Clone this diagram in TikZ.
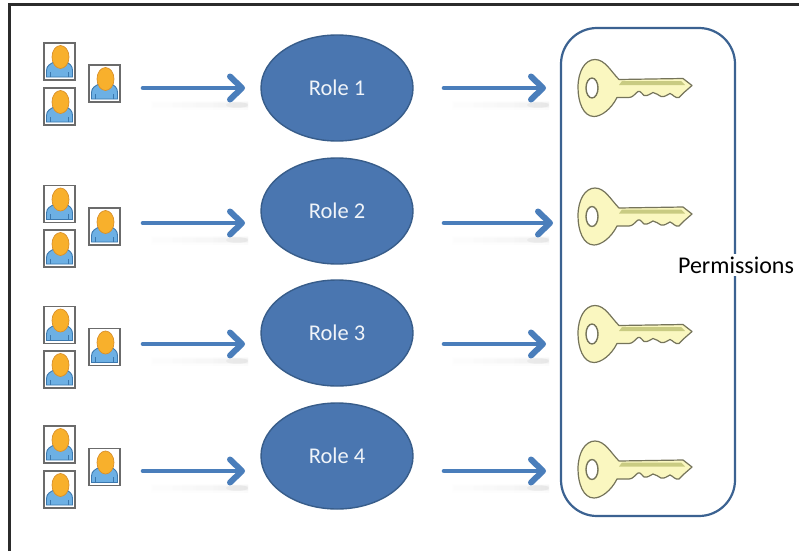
\documentclass[tikz,border=0pt]{standalone}
\usepackage{fontspec}
\setmainfont{Carlito}
\usetikzlibrary{arrows.meta,shapes.geometric}
\definecolor{blueline}{HTML}{4A7EBB}
\definecolor{rolefill}{HTML}{4A76B0}
\definecolor{roleedge}{HTML}{385D8A}
\definecolor{framecol}{HTML}{2B2B2B}
\definecolor{keyfill}{HTML}{FAF7C0}
\definecolor{keyedge}{HTML}{75745A}
\definecolor{keyband}{HTML}{C9CB82}
\definecolor{bodyfill}{HTML}{6DB0E4}
\definecolor{bodyedge}{HTML}{3B78AE}
\definecolor{headfill}{HTML}{F8B02C}
\definecolor{headedge}{HTML}{D9902A}
\tikzset{
  rolenode/.style={ellipse,draw=roleedge,line width=1.4pt,fill=rolefill,minimum width=152pt,minimum height=106pt,inner sep=0pt,text=white!92!rolefill,font=\fontsize{22.5}{26}\selectfont},
  flow/.style={draw=blueline,line width=4.6pt,line cap=round,-{Straight Barb[length=12pt,width=23pt,line width=6pt,round]}},
  photo/.style={rectangle,draw=black!58,line width=1.3pt,fill=white,minimum width=31pt,minimum height=37pt,inner sep=0pt},
  pics/person/.style={code={
    \fill[bodyfill,draw=bodyedge,line width=.9pt] (-13,15.5) -- (-13,9) .. controls (-13,4) and (-9,2) .. (-4,0) -- (6,0) .. controls (10,2) and (13,4) .. (13,9) -- (13,15.5) -- cycle;
    \draw[bodyedge,line width=.7pt] (-9,15.5) -- (-9,10) (9,15.5) -- (9,10);
    \fill[headfill,draw=headedge,line width=.7pt] (1,-4.5) ellipse [x radius=8.5,y radius=11.5];
  }},
  pics/key/.style={code={
    \path[fill=keyfill,draw=keyedge,line width=1.2pt,line join=round] (22,-8) -- (86,-9) -- (95,-2) -- (87,5) -- (82,10) .. controls (78,11) and (76,7) .. (73,6) .. controls (70,7) and (68,10) .. (64,9) .. controls (61,8) and (59,5) .. (56,5) .. controls (53,6) and (51,9) .. (47,8) .. controls (45,7) and (44,3) .. (41,4) .. controls (38,6) and (36,10) .. (32,10) -- (20,10) .. controls (14,22) and (4,29) .. (-3,29) .. controls (-14,29) and (-19,14) .. (-19,0) .. controls (-19,-16) and (-12,-28) .. (-2,-28) .. controls (8,-28) and (14,-16) .. (22,-8) -- cycle;
    \fill[keyband] (25,-6.5) -- (84,-6.5) -- (88,-2.5) -- (22,-2.5) -- cycle;
    \draw[keyedge,line width=1.4pt,fill=white] (-5,0.5) ellipse [x radius=6,y radius=10];
  }},
}
\begin{document}
\begin{tikzpicture}[x=1pt,y=-1pt]
\useasboundingbox (0,0) rectangle (799,551);
\fill[white] (0,0) rectangle (799,551);
% frame of the screenshot
\draw[framecol,line width=3pt] (9,551) -- (9,5) -- (799,5);

% permission box
\node[rectangle,rounded corners=36pt,draw=roleedge!85!blueline,line width=2.2pt,minimum width=174pt,minimum height=488pt,inner sep=0pt] (permbox) at (648,272) {};
\node[fill=white,inner xsep=1pt,inner ysep=3pt,font=\fontsize{24}{28}\selectfont] (permlabel) at (736,265) {Permissions};

% rows: index / top photo y / lower photo y / side photo y / arrow y / role y / key y
\foreach \i/\ya/\yb/\yc/\yar/\yr/\yk/\xe in {
  1/61.5/106.5/83.5/88/88/87.5/546,
  2/204/248.5/226.5/223/211/216/553,
  3/325/369.5/347/344/333/333.5/546,
  4/444.5/489.5/467/471/456/469/546}{
  \node[photo] (pa\i) at (59.5,\ya) {};
  \node[photo] (pb\i) at (59.5,\yb) {};
  \node[photo] (pc\i) at (104.5,\yc) {};
  \pic at (59.5,\ya) {person};
  \pic at (59.5,\yb) {person};
  \pic at (104.5,\yc) {person};
  \node[rolenode] (role\i) at (337,\yr) {Role \i};
  \pic at (597,\yk) {key};
  % soft shadows below the arrows
  \foreach \w/\o in {8/.035,5/.05,2.5/.06}{
    \shade[left color=white,right color=black!35,opacity=\o] (150,\yar+17-\w/2) rectangle (248,\yar+17+\w/2);
    \shade[left color=white,right color=black!35,opacity=\o] (451,\yar+17-\w/2) rectangle (549,\yar+17+\w/2);
  }
  \fill[black,opacity=.04] (237,\yar+17) ellipse [x radius=11,y radius=3];
  \fill[black,opacity=.04] (538,\yar+17) ellipse [x radius=11,y radius=3];
  \coordinate (ls\i) at (143,\yar);
  \coordinate (le\i) at (245,\yar);
  \coordinate (rs\i) at (444,\yar);
  \coordinate (re\i) at (\xe,\yar);
  \draw[flow] (ls\i) -- (le\i);
  \draw[flow] (rs\i) -- (re\i);
}
\end{tikzpicture}
\end{document}
